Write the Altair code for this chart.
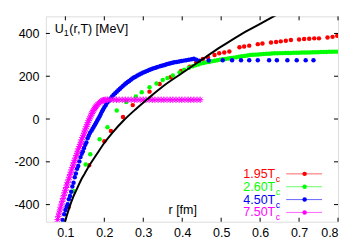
import altair as alt
import pandas as pd

# ---------------- data ----------------
red_r = [0.108, 0.161, 0.200, 0.217, 0.248, 0.273, 0.316, 0.342, 0.370, 0.397, 0.419, 0.436,
         0.453, 0.466, 0.483, 0.495, 0.508, 0.521, 0.547, 0.559, 0.572, 0.594, 0.606, 0.628,
         0.641, 0.653, 0.666, 0.679, 0.700, 0.713, 0.726, 0.739, 0.751, 0.773, 0.786, 0.798]
red_u = [-413, -216, -104, -56, 9, 65, 128, 164, 195, 225, 245, 265,
         281, 288, 299, 307, 311, 316, 335, 339, 343, 350, 353, 358,
         360, 363, 366, 369, 372, 374, 375, 377, 377, 381, 384, 389]

green_r = [0.122, 0.152, 0.164, 0.188, 0.208, 0.232, 0.256, 0.281, 0.296, 0.316, 0.334, 0.350,
           0.362, 0.376, 0.393, 0.405, 0.417,
           0.427, 0.434, 0.441, 0.448, 0.455, 0.462, 0.469, 0.476, 0.483, 0.490, 0.497, 0.504,
           0.511, 0.518, 0.525, 0.532, 0.539, 0.546, 0.553, 0.560, 0.567, 0.574, 0.581, 0.588,
           0.595, 0.602, 0.609, 0.616, 0.623, 0.630, 0.637, 0.644, 0.651, 0.658, 0.665, 0.672,
           0.679, 0.686, 0.693, 0.700, 0.707, 0.714, 0.721, 0.728, 0.735, 0.742, 0.749, 0.756,
           0.763, 0.770, 0.777, 0.784, 0.791, 0.798]
green_u = [-337, -213, -165, -95, -38, 40, 80, 105, 125, 149, 166, 182,
           192, 203, 218, 230, 240,
           247, 251, 255, 259, 262, 265, 267, 270, 272, 275, 277, 279,
           281, 283, 285, 287, 289, 291, 293, 295, 297, 299, 300, 301,
           302, 303, 304, 305, 305, 306, 307, 307, 308, 308, 309, 309,
           309, 310, 310, 310, 311, 311, 311, 311, 312, 312, 312, 313,
           313, 313, 314, 314, 315, 315]

blue_r = [0.093, 0.097, 0.100, 0.103, 0.106, 0.109, 0.112, 0.115, 0.118, 0.121, 0.124, 0.127,
          0.130, 0.133, 0.136, 0.139, 0.142, 0.145, 0.148, 0.151, 0.154, 0.157, 0.160, 0.163,
          0.167, 0.170, 0.173, 0.176, 0.179, 0.182, 0.185, 0.188, 0.191, 0.194, 0.197, 0.200,
          0.204, 0.208, 0.212, 0.216, 0.220, 0.224, 0.228, 0.232, 0.236, 0.240, 0.244, 0.248,
          0.252, 0.256, 0.260, 0.264, 0.268, 0.272, 0.276, 0.280, 0.285, 0.290, 0.295, 0.300,
          0.305, 0.310, 0.315, 0.320, 0.325, 0.330, 0.335, 0.340, 0.345, 0.350, 0.355, 0.360,
          0.365, 0.370, 0.375, 0.380, 0.386, 0.392, 0.398, 0.404, 0.410, 0.417, 0.424, 0.430,
          0.436, 0.444,
          0.468, 0.504, 0.528, 0.551, 0.572, 0.594, 0.623, 0.643, 0.670, 0.694, 0.717, 0.737]
blue_u = [-472, -445, -425, -410, -398, -375, -360, -340, -315, -298, -272, -255,
          -232, -220, -198, -178, -162, -152, -135, -120, -110, -90, -78, -65,
          -55, -45, -36, -27, -17, -7, 3, 13, 24, 35, 45, 55,
          66, 77, 87, 96, 105, 113, 121, 128, 135, 142, 148, 155,
          161, 167, 173, 178, 184, 189, 194, 198, 203, 208, 213, 217,
          221, 225, 229, 233, 236, 239, 242, 245, 248, 250, 253, 256,
          258, 261, 263, 265, 267, 269, 271, 273, 275, 277, 279, 282,
          277, 273,
          274, 275, 275, 275, 275, 275, 275, 275, 275, 275, 275, 275]

mag_r = [0.078, 0.080, 0.082, 0.084, 0.086, 0.088, 0.090, 0.092, 0.094, 0.096, 0.098, 0.100,
         0.102, 0.104, 0.106, 0.108, 0.110, 0.112, 0.114, 0.116, 0.118, 0.120, 0.122, 0.124,
         0.126, 0.128, 0.130, 0.132, 0.134, 0.136, 0.138, 0.140, 0.142, 0.144, 0.146, 0.148,
         0.150, 0.152, 0.154, 0.156, 0.158, 0.160, 0.162, 0.164, 0.166, 0.168, 0.170, 0.172,
         0.174, 0.176, 0.178, 0.180, 0.183, 0.186, 0.189, 0.192, 0.195, 0.198, 0.201, 0.204,
         0.208, 0.215, 0.223, 0.231, 0.238, 0.246, 0.254, 0.261, 0.269, 0.277, 0.284, 0.292,
         0.300, 0.307, 0.315, 0.323, 0.330, 0.338, 0.346, 0.353, 0.361, 0.369, 0.376, 0.384,
         0.392, 0.399, 0.407, 0.415, 0.422, 0.430, 0.438, 0.446]
mag_u = [-490, -470, -455, -440, -425, -412, -398, -385, -372, -358, -345, -333,
         -320, -308, -296, -284, -272, -260, -249, -238, -226, -215, -204, -193,
         -182, -171, -160, -150, -139, -128, -118, -108, -97, -87, -76, -66,
         -56, -46, -36, -27, -17, -8, 1, 10, 18, 26, 33, 40,
         46, 52, 57, 62, 68, 74, 79, 83, 86, 88, 89, 90,
         90, 90, 90, 90, 90, 90, 90, 90, 90, 90, 90, 90,
         90, 90, 90, 90, 90, 90, 90, 90, 90, 90, 90, 90,
         90, 90, 90, 90, 90, 90, 90, 90]

black_r = [0.098, 0.100, 0.110, 0.120, 0.130, 0.140, 0.150, 0.160, 0.180, 0.200, 0.220,
           0.250, 0.280, 0.310, 0.350, 0.400, 0.450, 0.500, 0.550, 0.600, 0.645]
black_u = [-490, -475, -415, -365, -325, -286, -254, -222, -166, -112, -66,
           -6, 45, 92, 152, 215, 277, 338, 395, 445, 490]

series_labels = ["1.95T", "2.60T", "4.50T", "7.50T"]
series_colors = ["#ff0000", "#00ff00", "#0000ff", "#ff00ff"]

x_ticks = [0.1, 0.2, 0.3, 0.4, 0.5, 0.6, 0.7, 0.8]
y_ticks = [-400, -200, 0, 200, 400]

# ---------------- chart ----------------
W, H = 293, 206
FONT = "Liberation Sans"
xs = alt.Scale(domain=[0.05, 0.8], nice=False, zero=False)
ys = alt.Scale(domain=[-480, 480], nice=False, zero=False)
xaxis = alt.Axis(values=x_ticks, labelExpr="format(datum.value, '.1f')", tickSize=0,
                 domain=False, grid=False, labelPadding=5, labelFontSize=12.5,
                 labelFont=FONT, labelColor="black", title=None)
yaxis = alt.Axis(values=y_ticks, labelExpr="'' + datum.value", tickSize=0,
                 domain=False, grid=False, labelPadding=7, labelFontSize=12.5,
                 labelFont=FONT, labelColor="black", title=None)


def X(f):
    return alt.X(f + ":Q", scale=xs, axis=xaxis, title=None)


def Y(f):
    return alt.Y(f + ":Q", scale=ys, axis=yaxis, title=None)


def points(r, u, color):
    df = pd.DataFrame({"r": r, "u": u})
    return alt.Chart(df).mark_circle(size=20, color=color, opacity=1, clip=True).encode(
        x=X("r"), y=Y("u"))


ASTER = "M-1,0L1,0M0,-1L0,1M-0.7,-0.7L0.7,0.7M-0.7,0.7L0.7,-0.7"

layers = [
    points(red_r, red_u, series_colors[0]),
    points(green_r, green_u, series_colors[1]),
    points(blue_r, blue_u, series_colors[2]),
    alt.Chart(pd.DataFrame({"r": mag_r, "u": mag_u})).mark_point(
        shape=ASTER, size=42, filled=False, stroke=series_colors[3], strokeWidth=1,
        opacity=1, clip=True).encode(x=X("r"), y=Y("u")),
    alt.Chart(pd.DataFrame({"r": black_r, "u": black_u})).mark_line(
        color="black", strokeWidth=2, interpolate="monotone", clip=True).encode(
        x=X("r"), y=Y("u")),
]

# inward ticks on all four sides
TL = 4
xt = pd.DataFrame({"t": x_ticks})
yt = pd.DataFrame({"t": y_ticks})
layers += [
    alt.Chart(xt).mark_rule(color="black", strokeWidth=1).encode(
        x=X("t"), y=alt.value(H), y2=alt.value(H - TL)),
    alt.Chart(xt).mark_rule(color="black", strokeWidth=1).encode(
        x=X("t"), y=alt.value(0), y2=alt.value(TL)),
    alt.Chart(yt).mark_rule(color="black", strokeWidth=1).encode(
        y=Y("t"), x=alt.value(0), x2=alt.value(TL)),
    alt.Chart(yt).mark_rule(color="black", strokeWidth=1).encode(
        y=Y("t"), x=alt.value(W - TL), x2=alt.value(W)),
]

one = pd.DataFrame({"a": [0]})


def txt(s, x, y, size=12.5, color="black", align="left"):
    return alt.Chart(one).mark_text(text=s, font=FONT, fontSize=size, color=color,
                                    align=align, baseline="alphabetic").encode(
        x=alt.value(x), y=alt.value(y))


# axis titles inside the frame
layers += [
    txt("U", 9, 16.5),
    txt("1", 18, 20, size=9),
    txt("(r,T) [MeV]", 23.5, 16.5),
    txt("r [fm]", 123, 198.5),
]

# legend
for i, (lab, col) in enumerate(zip(series_labels, series_colors)):
    yc = 158 + 12.9 * i
    layers += [
        txt(lab, 230, yc + 4, color=col, align="right"),
        txt("c", 230.5, yc + 8, size=9, color=col),
        alt.Chart(one).mark_rule(color=col, strokeWidth=1, opacity=0.6).encode(
            x=alt.value(241), x2=alt.value(277), y=alt.value(yc)),
        alt.Chart(one).mark_circle(size=20, color=col, opacity=1).encode(
            x=alt.value(259.5), y=alt.value(yc)),
    ]

chart = alt.layer(*layers).properties(
    width=W, height=H,
    autosize=alt.AutoSizeParams(type="none"),
    padding={"left": 38, "top": 8, "right": 8, "bottom": 26},
).configure_view(stroke="black", strokeWidth=1).configure(background="white")

chart.save("out.html", embed_options={"renderer": "svg", "actions": False})
